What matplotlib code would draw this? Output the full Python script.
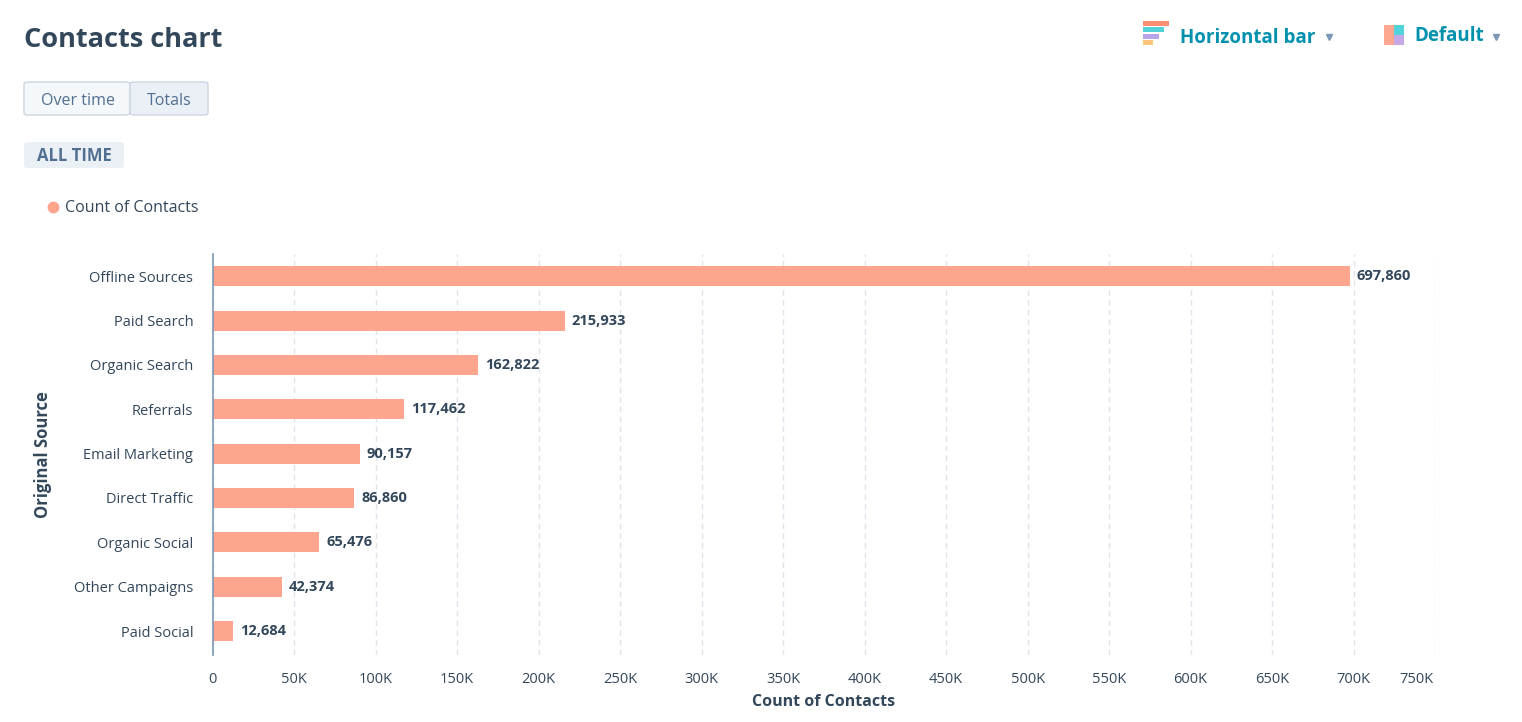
import matplotlib
matplotlib.use("Agg")
import matplotlib.pyplot as plt
from matplotlib.patches import Rectangle, FancyBboxPatch
from matplotlib.lines import Line2D
from matplotlib.transforms import ScaledTranslation

categories = ["Offline Sources", "Paid Search", "Organic Search", "Referrals",
              "Email Marketing", "Direct Traffic", "Organic Social",
              "Other Campaigns", "Paid Social"]
values = [697860, 215933, 162822, 117462, 90157, 86860, 65476, 42374, 12684]
x_ticks = list(range(0, 750001, 50000))
x_tick_labels = ["0"] + [f"{t // 1000}K" for t in x_ticks[1:]]

FONT = "Open Sans"
DARK = "#33475b"
TEAL = "#0091ae"
BAR = "#fea58e"
plt.rcParams["font.family"] = [FONT, "DejaVu Sans"]

W, H = 1522, 722
fig = plt.figure(figsize=(W / 100, H / 100), dpi=100)
fig.patch.set_facecolor("white")

def fx(px):
    return px / W

def fy(py):
    return 1 - py / H

# ---- Header UI ----
fig.text(fx(24), fy(40), "Contacts chart", fontsize=19.5, fontweight="bold",
         color=DARK, va="center", ha="left")

# toggle buttons
fig.patches.append(FancyBboxPatch((fx(24), fy(115)), fx(106), 33 / H,
                                  boxstyle="round,pad=0,rounding_size=0.003",
                                  transform=fig.transFigure, facecolor="#f5f8fa",
                                  edgecolor="#cbd6e2", linewidth=1))
fig.patches.append(FancyBboxPatch((fx(130), fy(115)), fx(78), 33 / H,
                                  boxstyle="round,pad=0,rounding_size=0.003",
                                  transform=fig.transFigure, facecolor="#eaf0f6",
                                  edgecolor="#cbd6e2", linewidth=1))
fig.text(fx(78), fy(101), "Over time", fontsize=11.5, color="#516f90",
         ha="center", va="center")
fig.text(fx(169), fy(101), "Totals", fontsize=11.5, color="#516f90",
         ha="center", va="center")

# ALL TIME tag
fig.patches.append(FancyBboxPatch((fx(24), fy(168)), fx(100), 26 / H,
                                  boxstyle="round,pad=0,rounding_size=0.003",
                                  transform=fig.transFigure, facecolor="#eaf0f6",
                                  edgecolor="none"))
fig.text(fx(74), fy(156), "ALL TIME", fontsize=12, fontweight="bold",
         color="#516f90", ha="center", va="center")

# legend
fig.add_artist(Line2D([fx(53)], [fy(207)], marker="o", markersize=7.5,
                      color=BAR, linestyle="none", transform=fig.transFigure))
fig.text(fx(65), fy(208), "Count of Contacts", fontsize=11.5, color=DARK,
         ha="left", va="center")

# top-right: horizontal bar icon
icon_bars = [(21, 26, "#ff8f73"), (27, 21, "#51d3d9"),
             (34, 16, "#b8a3e6"), (40, 10, "#ffc57a")]
for y0, w, c in icon_bars:
    fig.patches.append(Rectangle((fx(1143), fy(y0 + 5)), fx(w), 5 / H,
                                 transform=fig.transFigure, facecolor=c,
                                 edgecolor="none"))
fig.text(fx(1180), fy(38), "Horizontal bar", fontsize=13.5, fontweight="bold",
         color=TEAL, ha="left", va="center")
fig.add_artist(Line2D([fx(1329)], [fy(37)], marker="v", markersize=4.5,
                      color="#7c98b6", linestyle="none", transform=fig.transFigure))

# Default icon
fig.patches.append(Rectangle((fx(1384), fy(45)), fx(10), 20 / H,
                             transform=fig.transFigure, facecolor="#ffa88f",
                             edgecolor="none"))
fig.patches.append(Rectangle((fx(1394), fy(35)), fx(10), 10 / H,
                             transform=fig.transFigure, facecolor="#51d3d9",
                             edgecolor="none"))
fig.patches.append(Rectangle((fx(1394), fy(45)), fx(10), 10 / H,
                             transform=fig.transFigure, facecolor="#c6a8e8",
                             edgecolor="none"))
fig.text(fx(1414), fy(36), "Default", fontsize=13.5, fontweight="bold",
         color=TEAL, ha="left", va="center")
fig.add_artist(Line2D([fx(1496)], [fy(37)], marker="v", markersize=4.5,
                      color="#7c98b6", linestyle="none", transform=fig.transFigure))

# ---- Chart ----
left, right, top, bottom = 212.7, 1435, 254, 655
ax = fig.add_axes([fx(left), fy(bottom), fx(right - left), (bottom - top) / H])
ypos = list(range(len(categories)))
ax.barh(ypos, values, height=0.45, color=BAR, edgecolor="none", zorder=3)
ax.set_ylim(len(categories) - 0.46, -0.5)
ax.set_xlim(0, 750000)

ax.set_xticks(x_ticks)
ax.set_xticklabels(x_tick_labels)
ax.set_yticks(ypos)
ax.set_yticklabels(categories)
ax.tick_params(axis="both", length=0, labelsize=10.5, colors=DARK)
ax.tick_params(axis="y", pad=14)
ax.tick_params(axis="x", pad=12)

ax.grid(axis="x", linestyle=(0, (4, 3)), color="#dfe3eb", linewidth=1, zorder=0)
ax.grid(axis="y", visible=False)
for s in ["top", "right", "bottom"]:
    ax.spines[s].set_visible(False)
ax.spines["left"].set_color("#7c98b6")
ax.spines["left"].set_linewidth(1.2)
ax.spines["left"].set_zorder(4)

for y, v in zip(ypos, values):
    ax.annotate(f"{v:,}", xy=(v, y), xytext=(5, 0), textcoords="offset points",
                ha="left", va="center", fontsize=10.5, fontweight="bold",
                color=DARK)

ax.set_xlabel("Count of Contacts", fontsize=11.5, fontweight="bold", color=DARK)
ax.xaxis.set_label_coords(0.5, -0.098)
ax.set_ylabel("Original Source", fontsize=12, fontweight="bold", color=DARK)
ax.yaxis.set_label_coords(-(left - 52) / (right - left), 0.5)

# shift the last x tick label to end at the gridline
lab = ax.get_xticklabels()[-1]
lab.set_horizontalalignment("right")
lab.set_transform(lab.get_transform() + ScaledTranslation(-2 / 100, 0, fig.dpi_scale_trans))

fig.savefig("out.png", dpi=100, facecolor="white")
